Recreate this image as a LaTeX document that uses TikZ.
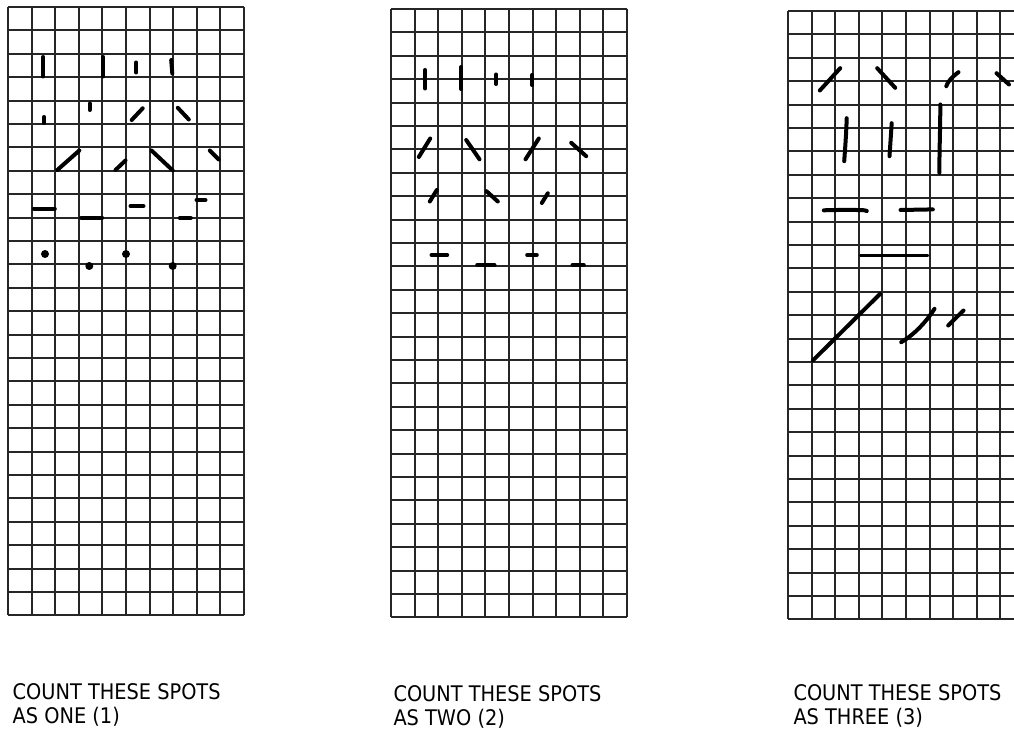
\documentclass[tikz,border=0pt]{standalone}
\usepackage{fontspec}
\setmainfont{DejaVu Sans}
\begin{document}
\begin{tikzpicture}[x=1pt,y=-1pt,
  gridline/.style={line width=1.6pt,draw=black!85},
  spot/.style={line width=4pt,line cap=round,draw=black},
  thinspot/.style={line width=3.3pt,line cap=round,draw=black},
  dotspot/.style={fill=black},
  label/.style={anchor=base west,inner sep=0pt,font=\fontsize{21.5}{24}\selectfont}]
\useasboundingbox (0,0) rectangle (1014,735);
\clip (0,0) rectangle (1014,735);
\fill[white] (0,0) rectangle (1014,735);
% grids
\foreach \gx/\gy in {8/7, 391/9, 788/11}{
  \foreach \i in {0,...,10}{
    \pgfmathsetmacro{\xx}{round(\gx+\i*23.6)}
    \draw[gridline] (\xx,\gy) -- (\xx,{round(\gy+26*23.4)});
  }
  \foreach \j in {0,...,26}{
    \pgfmathsetmacro{\yy}{round(\gy+\j*23.4)}
    \draw[gridline] (\gx,\yy) -- ({\gx+236},\yy);
  }
}
% ---- grid 1 marks
\draw[spot] (43.3,57) -- (43.3,76.5);
\draw[spot] (103.3,57) -- (103.3,76.5);
\draw[spot] (136.3,62.5) -- (136.3,72.5);
\draw[spot] (171.2,60) -- (172.3,73.5);
\draw[spot] (44.3,117) -- (44.3,123);
\draw[spot] (89.7,103.5) -- (89.7,110);
\draw[spot] (131.7,120) -- (142.7,108.3);
\draw[spot] (177.8,107.8) -- (188.8,119.5);
\draw[spot] (57.3,170) -- (79.3,150.5);
\draw[spot] (115.5,170) -- (125.5,160.5);
\draw[spot] (151.5,150.5) -- (172.8,170.5);
\draw[spot] (209.8,150.5) -- (218.8,159.5);
\draw[spot] (33.8,208.7) -- (54.8,208.7);
\draw[spot] (81.2,217.7) -- (102.2,217.7);
\draw[spot] (130.5,206) -- (143.5,206);
\draw[spot] (179.8,218) -- (190.8,218);
\draw[spot] (196.5,200) -- (205.5,200);
\fill[dotspot] (45,254) circle (4);
\fill[dotspot] (89.3,266) circle (4);
\fill[dotspot] (126,254) circle (4);
\fill[dotspot] (172.7,266) circle (4);
% ---- grid 2 marks
\draw[spot] (425.3,70) -- (425.3,88.5);
\draw[spot] (461.3,67) -- (461.3,89);
\draw[spot] (496.3,74.5) -- (496.3,84);
\draw[spot] (532.3,75) -- (532.3,85);
\draw[spot] (418.8,157) -- (430.2,138.5);
\draw[spot] (466.2,140) -- (479.5,159.3);
\draw[spot] (525.5,159.3) -- (538.8,138.5);
\draw[spot] (571.2,142.8) -- (586.2,156.2);
\draw[spot] (429.8,201.5) -- (436.8,190);
\draw[spot] (486.5,191.2) -- (497.8,201.5);
\draw[spot] (541.8,203) -- (547.8,193.3);
\draw[spot] (431.5,255) -- (447.2,255);
\draw[spot] (477.2,265) -- (494.5,265);
\draw[spot] (527.2,255) -- (536.8,255);
\draw[spot] (572.5,265) -- (583.8,265);
% ---- grid 3 marks
\draw[spot] (819.8,90.5) -- (840.2,68.2);
\draw[spot] (877.2,68.2) -- (895.2,87.8);
\draw[spot] (946.3,86.2) .. controls (948,81) and (952,77) .. (958.5,72.2);
\draw[spot] (996.5,73.2) -- (1009,84.5);
\draw[spot] (846.7,118.2) .. controls (846.2,135) and (845,150) .. (844.2,161.2);
\draw[spot] (891.7,123.2) -- (889.5,156.2);
\draw[spot] (940.3,104.5) .. controls (940.3,130) and (939.3,150) .. (939.4,172.8);
\draw[spot] (823.8,210.3) .. controls (840,209.8) and (858,209.8) .. (864.5,210.3) -- (866.8,211);
\draw[spot] (900.5,210) -- (932.8,209.4);
\draw[thinspot] (860.5,255.7) -- (927.8,255.7);
\draw[spot] (812.8,360.5) -- (880.2,293.8);
\draw[spot] (901.2,342.2) .. controls (915,334) and (926,322) .. (934.5,308.8);
\draw[spot] (948.2,325.5) -- (963.5,310.5);
% ---- labels
\node[label] (l1a) at (12.5,699.5) {\scalebox{0.9}[1]{COUNT THESE SPOTS}};
\node[label] (l1b) at (12.5,723.5) {\scalebox{0.9}[1]{AS ONE (1)}};
\node[label] (l2a) at (393.3,701) {\scalebox{0.9}[1]{COUNT THESE SPOTS}};
\node[label] (l2b) at (393.3,725) {\scalebox{0.9}[1]{AS TWO (2)}};
\node[label] (l3a) at (793.3,700) {\scalebox{0.9}[1]{COUNT THESE SPOTS}};
\node[label] (l3b) at (793.3,724) {\scalebox{0.9}[1]{AS THREE (3)}};
\end{tikzpicture}
\end{document}
